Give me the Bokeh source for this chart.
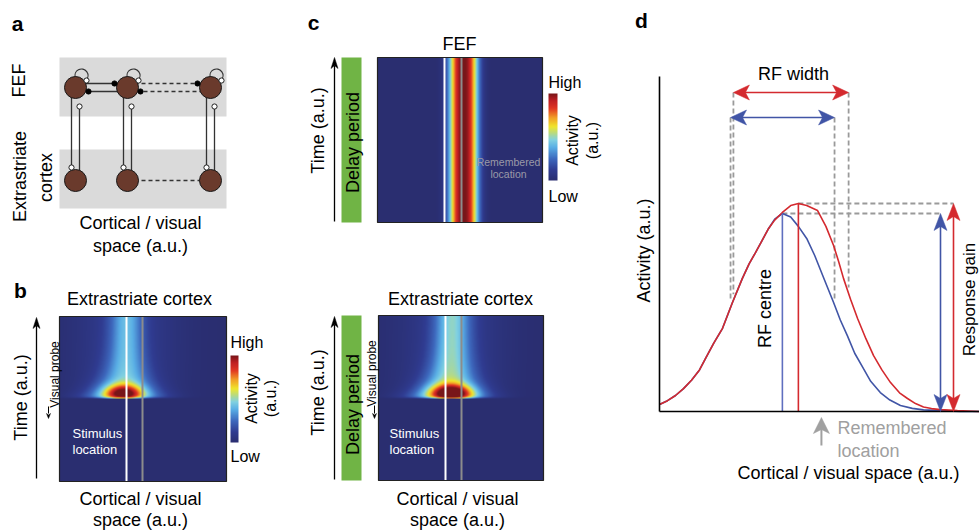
import numpy as np
from bokeh.plotting import figure
from bokeh.models import Range1d, LinearColorMapper
from bokeh.embed import file_html
from bokeh.resources import INLINE
from bokeh.core.properties import value

# ---------------- data ----------------
# panel d: receptive-field profiles (space in a.u. 0-10, activity normalised to red peak)
space_red = [0.0, 0.25, 0.5, 0.75, 1.0, 1.25, 1.44, 1.7, 1.97, 2.28, 2.59, 2.8, 3.0, 3.2, 3.41, 3.6, 3.84,
             4.1, 4.34, 4.6, 4.94, 5.2, 5.44, 5.6, 5.75, 5.97, 6.19, 6.45, 6.69, 6.95, 7.22, 7.5, 7.75,
             8.0, 8.25, 8.5, 8.78, 9.31, 10.0]
act_red = [0.034, 0.052, 0.077, 0.11, 0.15, 0.2, 0.255, 0.33, 0.40, 0.524, 0.64, 0.71, 0.764, 0.82, 0.88,
           0.92, 0.957, 0.99, 1.0, 0.99, 0.966, 0.89, 0.798, 0.72, 0.64, 0.54, 0.447, 0.35, 0.269, 0.2,
           0.139, 0.09, 0.0625, 0.038, 0.022, 0.014, 0.009, 0.004, 0.0]
space_blue = [0.0, 0.25, 0.5, 0.75, 1.0, 1.25, 1.44, 1.7, 1.97, 2.28, 2.59, 2.8, 3.0, 3.2, 3.41, 3.6, 3.84,
              4.1, 4.34, 4.6, 4.85, 5.1, 5.44, 5.65, 5.87, 6.1, 6.37, 6.6, 6.9, 7.2, 7.53, 7.9, 8.25,
              8.78, 9.4, 10.0]
act_blue = [0.034, 0.052, 0.077, 0.11, 0.15, 0.2, 0.255, 0.33, 0.40, 0.524, 0.64, 0.71, 0.764, 0.82, 0.88,
            0.925, 0.952, 0.935, 0.89, 0.832, 0.75, 0.654, 0.524, 0.44, 0.365, 0.28, 0.207, 0.145, 0.091,
            0.055, 0.029, 0.015, 0.008, 0.004, 0.0, 0.0]
rf_centre = {"blue": 3.84, "red": 4.34}
rf_peak = {"blue": 0.952, "red": 1.0}
rf_edges = {"blue": [2.22, 5.47], "red": [2.31, 5.91]}
remembered_loc = 5.06

# heat-map model parameters (pixels of the heat map): transient blob + sustained plume
plume_b = dict(c0=64, c1=67, s_on=26, s_top=11, plateau=0.30, plateau_extra=0.2, halo=0.12,
               blob_c=64, blob_amp=0.6, blob_sx=13, blob_t=5, blob_st=6)
plume_c = dict(c0=70, c1=74, s_on=26, s_top=12, plateau=0.37, plateau_extra=0.2, halo=0.12,
               blob_c=73, blob_amp=0.7, blob_sx=14, blob_t=5, blob_st=6)
fef_band = dict(centre=86, width=14.5, power=2.6)

cmap_stops = [0.0, 0.12, 0.25, 0.38, 0.47, 0.55, 0.62, 0.72, 0.83, 0.92, 1.0]
cmap_rgb = [(42, 46, 112), (48, 60, 145), (62, 105, 190), (90, 175, 230), (130, 210, 225),
            (190, 220, 120), (240, 230, 45), (242, 160, 40), (225, 55, 35), (190, 30, 35), (120, 22, 25)]

FONT = "Liberation Sans"
RED = "#D42A2F"
BLUE = "#4155A6"
GRAY = "#9A9A9A"

# ---------------- figure ----------------
p = figure(width=979, height=530, x_range=Range1d(0, 979), y_range=Range1d(0, 530),
           output_backend="svg", toolbar_location=None, min_border=0,
           x_axis_type=None, y_axis_type=None)
p.outline_line_color = None
p.grid.visible = False
p.background_fill_color = "white"
p.border_fill_color = "white"


def Y(y):
    return 530 - y


def txt(x, y, s, size=18, color="black", align="center", angle=0.0, bold=False, baseline="middle"):
    p.text(x=[x], y=[Y(y)], text=[s], text_font=value(FONT), text_font_size=f"{size}px",
           text_color=color, text_align=align, text_baseline=baseline, angle=angle,
           text_font_style="bold" if bold else "normal")


def seg(x0, y0, x1, y1, color="#333333", width=1.3, dash="solid"):
    p.line([x0, x1], [Y(y0), Y(y1)], line_color=color, line_width=width, line_dash=dash)


def head(tx, ty, dx, dy, color, L=16, Wd=7, notch=4):
    bx, by = tx - dx * L, ty - dy * L
    nx, ny = -dy, dx
    mx, my = tx - dx * (L - notch), ty - dy * (L - notch)
    xs = [tx, bx + nx * Wd, mx, bx - nx * Wd]
    ys = [ty, by + ny * Wd, my, by - ny * Wd]
    p.patch(xs, [Y(v) for v in ys], fill_color=color, line_color=color, line_width=0.5)


PAL = []
_v = np.linspace(0, 1, 256)
_r = np.interp(_v, cmap_stops, [c[0] for c in cmap_rgb])
_g = np.interp(_v, cmap_stops, [c[1] for c in cmap_rgb])
_b = np.interp(_v, cmap_stops, [c[2] for c in cmap_rgb])
for r, g, b in zip(_r, _g, _b):
    PAL.append("#%02x%02x%02x" % (int(r), int(g), int(b)))
CMAP = LinearColorMapper(palette=PAL, low=0, high=1)

ROT = np.pi / 2

# ---------------- panel a ----------------
txt(17, 23, "a", size=21, bold=True)
p.quad(left=59, right=226, top=Y(57), bottom=Y(116), fill_color="#DADADA", line_color=None)
p.quad(left=59, right=226, top=Y(149), bottom=Y(208), fill_color="#DADADA", line_color=None)
cols = [75, 127, 210]
fef_y, ext_y = 87, 180
for cx in cols:
    seg(cx - 4, fef_y, cx - 4, 165)
    seg(cx + 4, ext_y, cx + 4, 108)
seg(cols[0], 83, 114, 83)
seg(cols[1], 91, 88, 91)
seg(cols[1], 83, 197, 83, dash="4 3")
seg(cols[2], 91, 140, 91, dash="4 3")
seg(cols[1], ext_y, cols[2], ext_y, dash="4 3")
for cx in cols:
    p.arc(x=[cx + 6], y=[Y(75)], radius=6.5, start_angle=np.deg2rad(-45), end_angle=np.deg2rad(200),
          direction="anticlock", line_color="#333333", line_width=1.2)
p.circle(x=cols * 2, y=[Y(fef_y)] * 3 + [Y(ext_y)] * 3, radius=11, fill_color="#6A3A2C",
         line_color="#1a1a1a", line_width=1)
p.circle(x=[114, 88, 197, 140], y=[Y(83), Y(91), Y(83), Y(91)], radius=2.6, fill_color="black",
         line_color="black")
wx = [c - 4 for c in cols] + [c + 4 for c in cols] + [c + 11 for c in cols]
wy = [Y(167)] * 3 + [Y(106)] * 3 + [Y(80)] * 3
p.circle(x=wx, y=wy, radius=2.6, fill_color="white", line_color="#222222", line_width=1)
txt(18, 80, "FEF", angle=ROT)
txt(19, 176, "Extrastriate", angle=ROT)
txt(45, 177, "cortex", angle=ROT)
txt(140, 222, "Cortical / visual")
txt(140, 245, "space (a.u.)")


# ---------------- heat-map helpers ----------------
def plume_img(nx, ny, bottom, onset, c0, c1, s_on, s_top, plateau, plateau_extra, halo,
              blob_c, blob_amp, blob_sx, blob_t, blob_st):
    X = np.arange(nx) + 0.5
    ref_y = bottom - (np.arange(ny) + 0.5)
    t = onset - ref_y
    T, Xg = np.meshgrid(t, X, indexing="ij")
    Tp = np.clip(T, 0, None)
    active = (T > 0).astype(float)
    rise = active * (1 - np.exp(-Tp / 1.2))
    c = c0 + (c1 - c0) * (1 - np.exp(-Tp / 25))
    s = s_top + (s_on - s_top) * np.exp(-Tp / 20)
    lev = plateau + plateau_extra * np.exp(-Tp / 15)
    plume = rise * (lev * np.exp(-(Xg - c) ** 2 / (2 * s ** 2))
                    + halo * np.exp(-(Xg - c) ** 2 / (2 * 35.0 ** 2)))
    blob = active * blob_amp * np.exp(-(Xg - blob_c) ** 2 / (2 * blob_sx ** 2)
                                      - (Tp - blob_t) ** 2 / (2 * blob_st ** 2))
    return np.clip(plume + blob, 0, 1)


def colorbar(x, ytop, ybot, w=8):
    arr = np.linspace(0, 1, 256).reshape(256, 1)
    p.image(image=[arr], x=x, y=Y(ybot), dw=w, dh=ybot - ytop, color_mapper=CMAP)


def frame(l, r, t, b):
    p.quad(left=l, right=r, top=Y(t), bottom=Y(b), fill_color=None, line_color="#222222", line_width=1.2)


def time_arrow(x, ybot, ytop):
    seg(x, ybot, x, ytop + 8, color="black", width=1.3)
    head(x, ytop, 0, -1, "black", L=11, Wd=3.5, notch=3)


# ---------------- panel b ----------------
txt(20, 290, "b", size=21, bold=True)
txt(139, 298, "Extrastriate cortex")
bl, br, bt, bb = 59, 226, 316, 481
img_b = plume_img(br - bl, bb - bt, bb, 398, **plume_b)
p.image(image=[img_b], x=bl, y=Y(bb), dw=br - bl, dh=bb - bt, color_mapper=CMAP)
seg(126, bt, 126, bb, color="white", width=2)
seg(142, bt, 142, bb, color="#8C8C8C", width=2)
frame(bl, br, bt, bb)
colorbar(230, 355, 442)
txt(230, 342, "High", size=16, align="left")
txt(230, 456, "Low", size=16, align="left")
txt(251, 398, "Activity", size=16, angle=ROT)
txt(270, 398, "(a.u.)", size=16, angle=ROT)
time_arrow(36, 478, 317)
txt(20, 397, "Time (a.u.)", angle=ROT)
txt(54, 374, "Visual probe", size=12, angle=ROT)
seg(48, 406, 48, 413, color="black", width=1)
head(48, 418, 0, 1, "black", L=5, Wd=2, notch=1.5)
txt(72, 433, "Stimulus", size=13, color="white", align="left")
txt(72, 449, "location", size=13, color="white", align="left")
txt(140, 498, "Cortical / visual")
txt(140, 519, "space (a.u.)")

# ---------------- panel c (FEF) ----------------
txt(313, 22, "c", size=21, bold=True)
txt(459, 43, "FEF")
cl, cr, ct, cb = 377, 542, 57, 222
Xc = np.arange(cr - cl) + 0.5
prof = np.exp(-(np.abs(Xc - fef_band["centre"]) / fef_band["width"]) ** fef_band["power"])
img_c = np.tile(prof, (cb - ct, 1))
p.image(image=[img_c], x=cl, y=Y(cb), dw=cr - cl, dh=cb - ct, color_mapper=CMAP)
seg(444, ct, 444, cb, color="white", width=2)
seg(461, ct, 461, cb, color="#8C8C8C", width=2)
frame(cl, cr, ct, cb)
p.quad(left=341, right=361, top=Y(57), bottom=Y(222), fill_color="#70B445", line_color=None)
txt(352, 142, "Delay period", angle=ROT)
time_arrow(334, 221, 57)
txt(317, 130, "Time (a.u.)", angle=ROT)
colorbar(548, 93, 180, w=9)
txt(548, 82, "High", size=16, align="left")
txt(548, 196, "Low", size=16, align="left")
txt(572, 140, "Activity", size=16, angle=ROT)
txt(592, 140, "(a.u.)", size=16, angle=ROT)
txt(508, 161, "Remembered", size=10.5, color="#9A9AA8")
txt(508, 173, "location", size=10.5, color="#9A9AA8")

# ---------------- panel c (extrastriate, delay) ----------------
txt(460, 298, "Extrastriate cortex")
el, er, et, eb = 378, 543, 315, 480
img_e = plume_img(er - el, eb - et, eb, 398, **plume_c)
p.image(image=[img_e], x=el, y=Y(eb), dw=er - el, dh=eb - et, color_mapper=CMAP)
seg(445, et, 445, eb, color="white", width=2)
seg(461, et, 461, eb, color="#8C8C8C", width=2)
frame(el, er, et, eb)
p.quad(left=341, right=361, top=Y(315), bottom=Y(480), fill_color="#70B445", line_color=None)
txt(352, 404, "Delay period", angle=ROT)
time_arrow(334, 479, 316)
txt(317, 392, "Time (a.u.)", angle=ROT)
txt(371, 373, "Visual probe", size=12, angle=ROT)
seg(374, 405, 374, 413, color="black", width=1)
head(374, 418, 0, 1, "black", L=5, Wd=2, notch=1.5)
txt(389, 433, "Stimulus", size=13, color="white", align="left")
txt(389, 449, "location", size=13, color="white", align="left")
txt(457, 498, "Cortical / visual")
txt(457, 519, "space (a.u.)")

# ---------------- panel d ----------------
DX0, DY0, SX, SY = 659, 411, 32.0, 208.0


def dx(s):
    return DX0 + s * SX


def dy(a):
    return DY0 - a * SY


txt(641, 20, "d", size=21, bold=True)
txt(643, 250, "Activity (a.u.)", angle=ROT)
txt(793, 73, "RF width")
txt(764, 308, "RF centre", angle=ROT)
txt(969, 299, "Response gain", size=17, angle=ROT)

for key, color_y in (("red", 92), ("blue", 117)):
    sx_list = space_red if key == "red" else space_blue
    a_list = act_red if key == "red" else act_blue
    for e in rf_edges[key]:
        a_end = float(np.interp(e, sx_list, a_list))
        seg(dx(e), color_y, dx(e), dy(a_end) - 6, color=GRAY, width=1.8, dash="5 3")
seg(dx(rf_centre["red"]), dy(rf_peak["red"]), 953, dy(rf_peak["red"]), color=GRAY, width=1.8, dash="5 3")
seg(dx(rf_centre["blue"]), dy(rf_peak["blue"]), 940, dy(rf_peak["blue"]), color=GRAY, width=1.8, dash="5 3")

p.line([dx(s) for s in space_blue], [Y(dy(a)) for a in act_blue], line_color=BLUE, line_width=1.6)
p.line([dx(s) for s in space_red], [Y(dy(a)) for a in act_red], line_color=RED, line_width=1.6)
seg(dx(rf_centre["blue"]), dy(rf_peak["blue"]), dx(rf_centre["blue"]), DY0, color="#5F6FBF", width=1.6)
seg(dx(rf_centre["red"]), dy(rf_peak["red"]), dx(rf_centre["red"]), DY0, color=RED, width=1.6)

seg(DX0, 76, DX0, DY0, color="black", width=1.6)
seg(DX0, DY0, 980, DY0, color="black", width=1.6)

for key, yy, col in (("red", 92, RED), ("blue", 117, BLUE)):
    l, r = dx(rf_edges[key][0]), dx(rf_edges[key][1])
    seg(l + 8, yy, r - 8, yy, color=col, width=1.6)
    head(l, yy, -1, 0, col, L=16, Wd=7.5, notch=4)
    head(r, yy, 1, 0, col, L=16, Wd=7.5, notch=4)

for key, xx, col in (("blue", 940, BLUE), ("red", 953, RED)):
    top = dy(rf_peak[key])
    seg(xx, top + 8, xx, DY0 - 8, color=col, width=1.6)
    head(xx, top, 0, -1, col, L=17, Wd=6.5, notch=4)
    head(xx, DY0, 0, 1, col, L=17, Wd=6.5, notch=4)

rx = dx(remembered_loc)
seg(rx, 445, rx, 428, color="#A0A0A0", width=2)
head(rx, 417, 0, -1, "#A0A0A0", L=16, Wd=8, notch=4)
txt(837, 427, "Remembered", color="#A0A0A0", align="left")
txt(837, 450, "location", color="#A0A0A0", align="left")
txt(848, 472, "Cortical / visual space (a.u.)")

open("out.html", "w").write(file_html(p, INLINE))
